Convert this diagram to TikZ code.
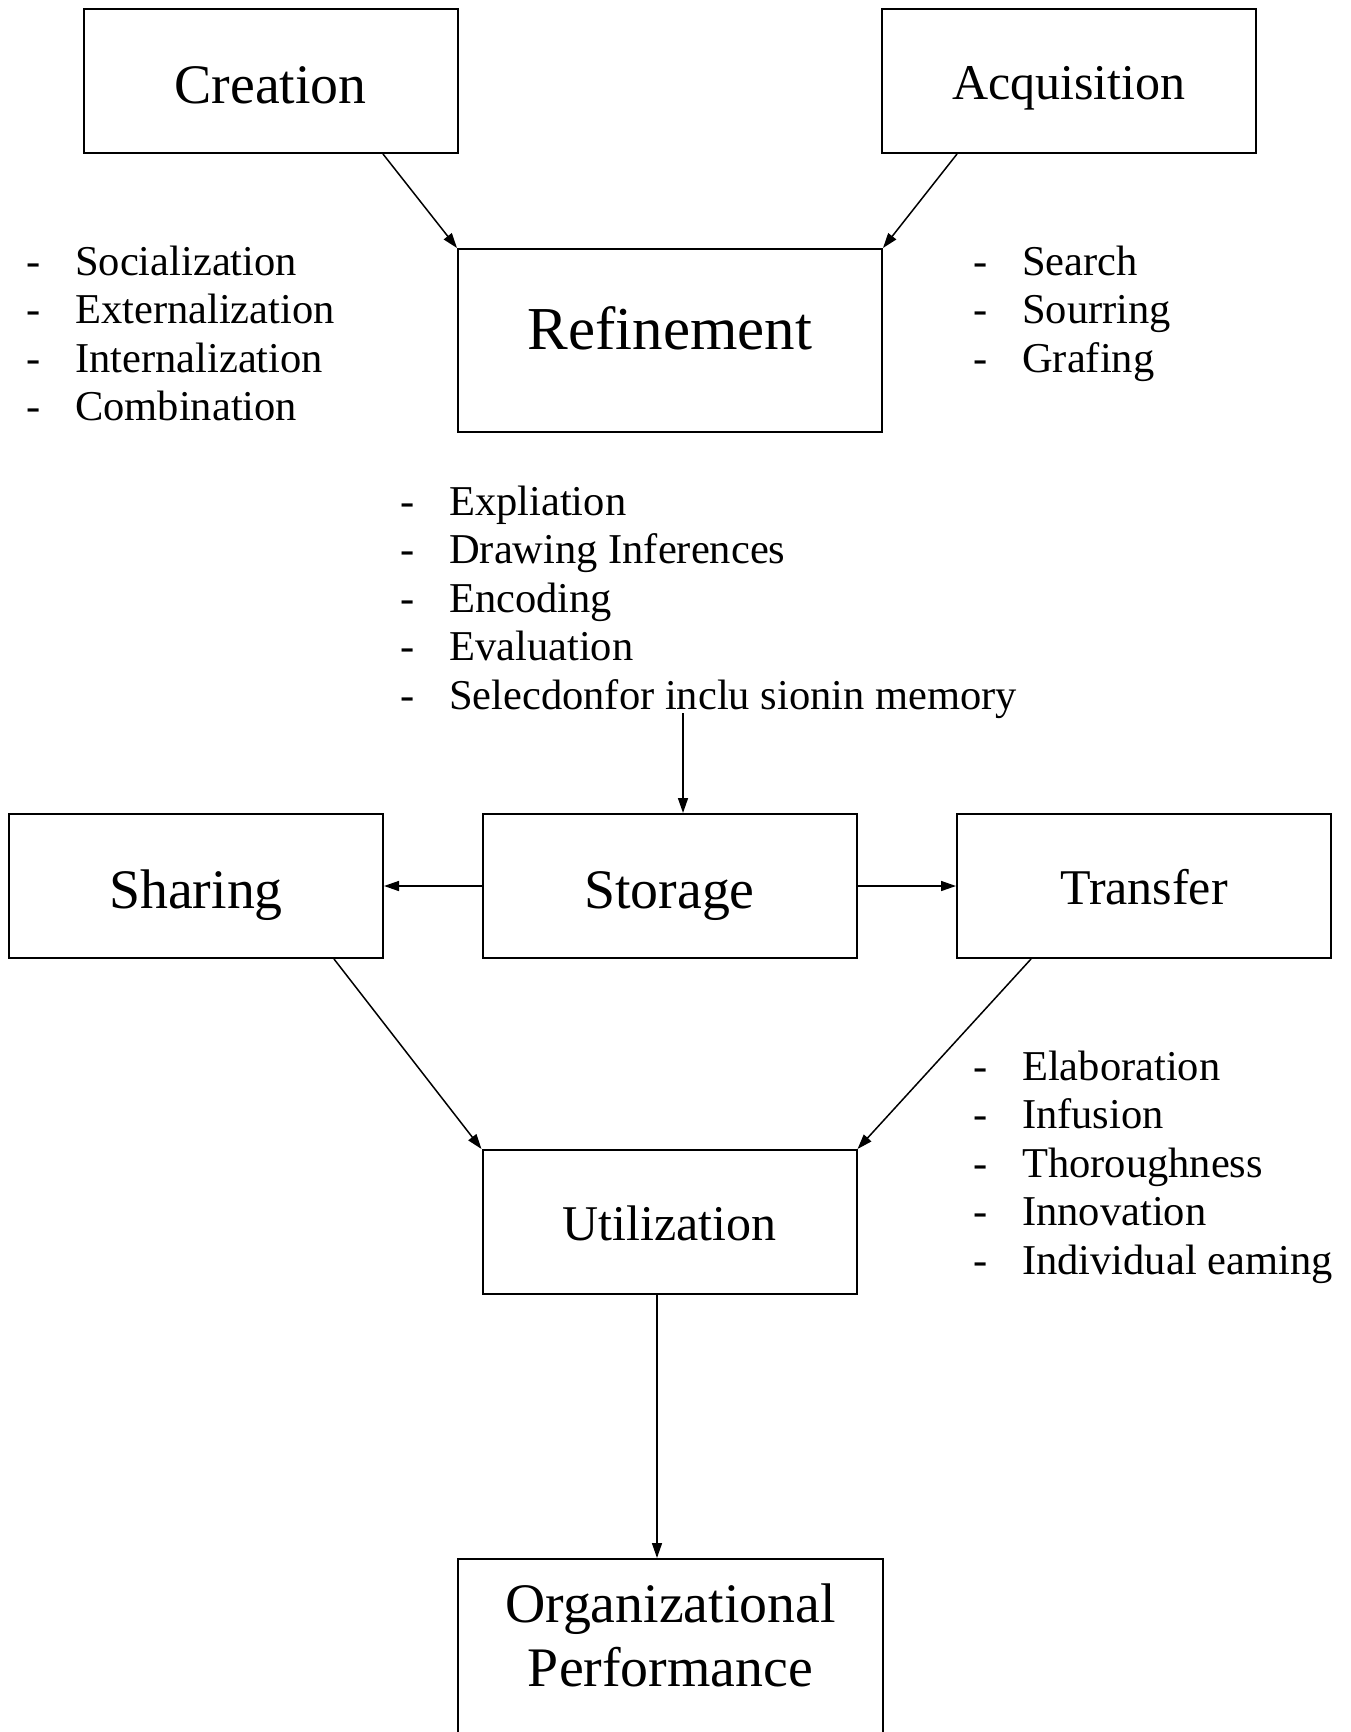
\documentclass[tikz,border=0pt]{standalone}
\usepackage{fontspec}
\setmainfont{Liberation Serif}
\usetikzlibrary{arrows.meta}
\newcommand{\dashitem}[1]{\makebox[49pt][l]{-}#1}

\begin{document}
\begin{tikzpicture}[x=1pt,y=-1pt,
	box/.style={draw,line width=2pt,minimum width=374pt,minimum height=144pt,inner sep=0pt,text depth=0pt},
	bigtxt/.style={font=\fontsize{55.8}{55}\selectfont,text height=44pt},
	midtxt/.style={font=\fontsize{50}{55}\selectfont,text height=37pt},
	items/.style={inner sep=0pt,anchor=base west,font=\fontsize{42.5}{48.5}\selectfont},
	flow/.style={line width=1.5pt,-{Triangle[length=15pt,width=10pt]}}]
	\useasboundingbox (0,0) rectangle (1350,1732);
	\node[box,bigtxt] (Cre) at (270.5,81) {Creation};
	\node[box,midtxt] (Acq) at (1069,81) {Acquisition};
	\node[box,minimum width=424pt,minimum height=183pt,font=\fontsize{61}{61}\selectfont,text height=45pt,text depth=28pt] (Ref) at (670,340.5) {Refinement};
	\node[box,bigtxt] (Sha) at (196,886) {Sharing};
	\node[box,bigtxt] (Sto) at (669.5,886) {Storage};
	\node[box,midtxt] (Tra) at (1144,886) {Transfer};
	\node[box,midtxt] (Uti) at (669.5,1222) {Utilization};
	\node[box,minimum width=425pt,minimum height=200pt,anchor=north,label={[align=center,anchor=north,inner sep=0pt,yshift=-25.5pt,font=\fontsize{55.8}{64}\selectfont]north:Organizational\\Performance}] (Org) at (670.5,1558) {};
	
	\node[items] (CreList) at (26,275) {\begin{tabular}[t]{@{}l@{}}\dashitem{Socialization}\\\dashitem{Externalization}\\\dashitem{Internalization}\\\dashitem{Combination}\end{tabular}};
	\node[items] (AcqList) at (973,275) {\begin{tabular}[t]{@{}l@{}}\dashitem{Search}\\\dashitem{Sourring}\\\dashitem{Grafing}\end{tabular}};
	\node[items] (RefList) at (400,515) {\begin{tabular}[t]{@{}l@{}}\dashitem{Expliation}\\\dashitem{Drawing Inferences}\\\dashitem{Encoding}\\\dashitem{Evaluation}\\\dashitem{Selecdonfor inclu sionin memory}\end{tabular}};
	\node[items] (TraList) at (973,1080) {\begin{tabular}[t]{@{}l@{}}\dashitem{Elaboration}\\\dashitem{Infusion}\\\dashitem{Thoroughness}\\\dashitem{Innovation}\\\dashitem{Individual eaming}\end{tabular}};
	\coordinate (Sel) at (683,713);
	
	\draw[flow] ([xshift=112.5pt]Cre.south) -- (Ref.north west);
	\draw[flow] ([xshift=-112pt]Acq.south) -- (Ref.north east);
	\draw[flow] (Sel) -- (Sel |- Sto.north);
	\draw[flow] (Sto) -- (Sha);
	\draw[flow] (Sto) -- (Tra);
	\draw[flow] ([xshift=138pt]Sha.south) -- (Uti.north west);
	\draw[flow] ([xshift=-113pt]Tra.south) -- (Uti.north east);
	\draw[flow] ([xshift=-12.5pt]Uti.south) -- ([xshift=-13.5pt]Org.north);
\end{tikzpicture}
\end{document}
